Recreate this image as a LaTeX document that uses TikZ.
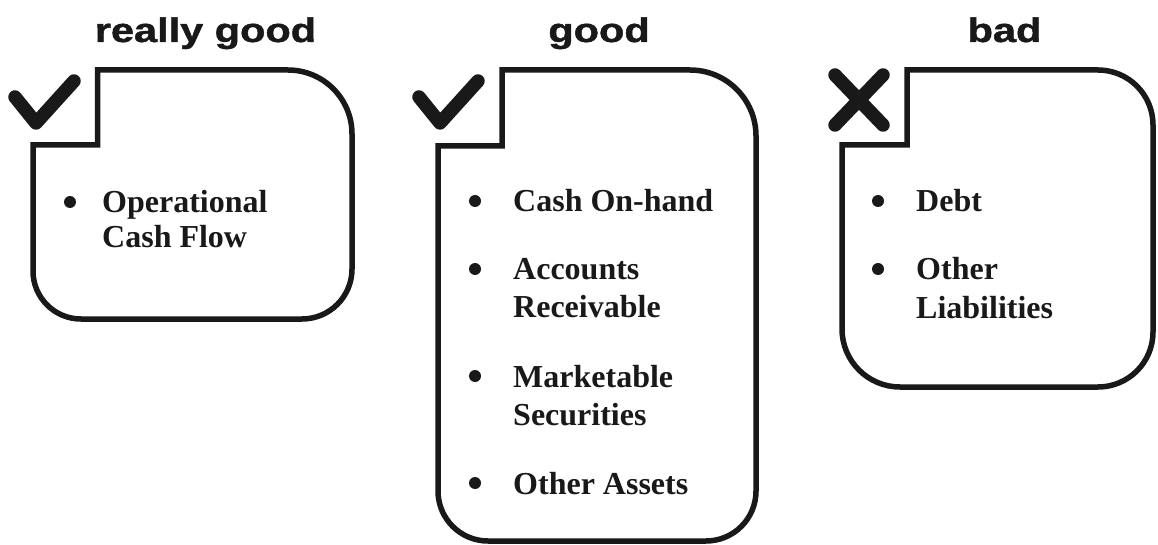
\documentclass[tikz,border=0pt]{standalone}
\usepackage{fontspec}
\setmainfont{Liberation Serif}
\newfontfamily\titlefont[BoldFeatures={FakeBold=1.2}]{Liberation Sans}
\begin{document}
\begin{tikzpicture}[x=1pt,y=1pt,
  boxline/.style={draw=black!90,line width=5.5pt,line join=miter},
  sym/.style={draw=black!90,line width=13.5pt,line cap=round,line join=round},
  title/.style={inner sep=0pt,anchor=base,font=\titlefont\bfseries\fontsize{34}{38}\selectfont,text=black!90},
  item/.style={inner sep=0pt,anchor=base west,font=\bfseries\fontsize{32}{36}\selectfont,text=black!90},
  bul/.style={circle,fill=black!90,inner sep=0pt,minimum size=12pt}]
\useasboundingbox (0,0) rectangle (1158,544);
% titles
\node[title] (t1) at (205.5,502) {\scalebox{1.22}[1]{really good}};
\node[title] (t2) at (599,502) {\scalebox{1.22}[1]{good}};
\node[title] (t3) at (1004.5,502) {\scalebox{1.22}[1]{bad}};
% box 1
\draw[boxline] (97.5,474) -- (288,474) arc[start angle=90,end angle=0,radius=64pt]
  -- (352,275) arc[start angle=0,end angle=-90,radius=50pt]
  -- (81,225) arc[start angle=270,end angle=180,radius=48pt]
  -- (33,399) -- (97.5,399) -- cycle;
% box 2
\draw[boxline] (502,474) -- (690,474) arc[start angle=90,end angle=0,radius=66pt]
  -- (756,53) arc[start angle=0,end angle=-90,radius=50pt]
  -- (488,3) arc[start angle=270,end angle=180,radius=50pt]
  -- (438,398) -- (502,398) -- cycle;
% box 3
\draw[boxline] (907,474) -- (1098,474) arc[start angle=90,end angle=0,radius=55pt]
  -- (1153,212) arc[start angle=0,end angle=-90,radius=55pt]
  -- (900,157) arc[start angle=270,end angle=180,radius=58pt]
  -- (842,399) -- (907,399) -- cycle;
% marks
\draw[sym] (15,447) -- (36,421) -- (74,463);
\draw[sym] (419,447) -- (440,421) -- (478,463);
\draw[sym] (835,469) -- (883,419);
\draw[sym] (883,469) -- (835,419);
% box 1 items
\node[bul] (b11) at (70,342) {};
\node[item] (op1) at (102,331) {Operational};
\node[item] (op2) at (102,296) {Cash Flow};
% box 2 items
\node[bul] (b21) at (475,343) {};
\node[item] (ca) at (513,332) {Cash On-hand};
\node[bul] (b22) at (475,275) {};
\node[item] (ac1) at (513,264) {Accounts};
\node[item] (ac2) at (513,227) {Receivable};
\node[bul] (b23) at (475,168) {};
\node[item] (mk1) at (513,157) {Marketable};
\node[item] (mk2) at (513,119) {Securities};
\node[bul] (b24) at (475,61) {};
\node[item] (oa) at (513,50) {Other Assets};
% box 3 items
\node[bul] (b31) at (878,343) {};
\node[item] (de) at (916,332) {Debt};
\node[bul] (b32) at (878,275) {};
\node[item] (ol1) at (916,264) {Other};
\node[item] (ol2) at (916,226) {Liabilities};
\end{tikzpicture}
\end{document}
